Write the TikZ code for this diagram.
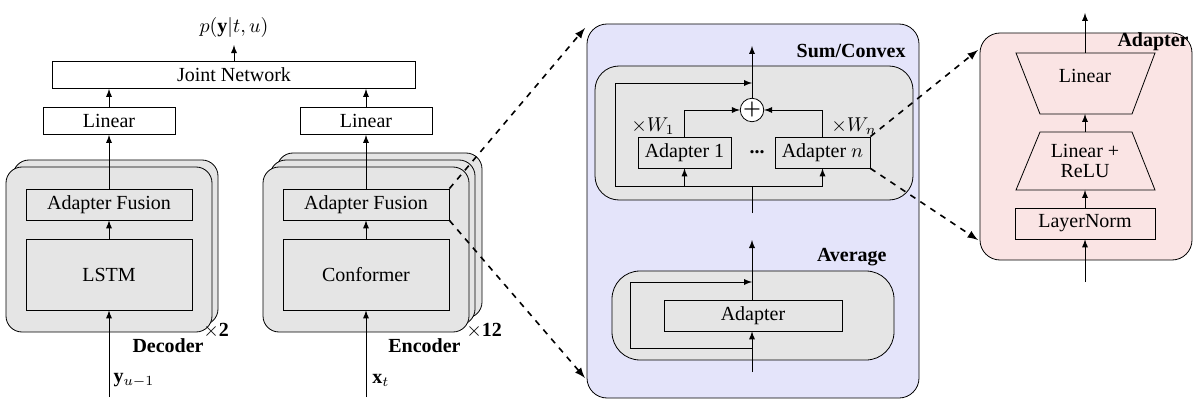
\documentclass[tikz,border=0pt]{standalone}
\usepackage{amsmath}
\usepackage{fontspec}
\setmainfont{Liberation Serif}
\usetikzlibrary{arrows.meta, positioning, calc}
\definecolor{layergray}{RGB}{229,229,229}
\definecolor{panelblue}{RGB}{228,228,250}
\definecolor{panelpink}{RGB}{250,228,228}
\tikzset{
  blk/.style={draw, fill=white, minimum height=13.5pt, inner sep=0pt},
  gblk/.style={draw, fill=layergray, minimum height=15.5pt, inner sep=0pt},
  layer/.style={draw, fill=layergray, rounded corners=8pt},
  arr/.style={-latex},
  zoomarr/.style={-latex, dashed, thick},
  title/.style={font=\bfseries, inner sep=1pt}
}
\begin{document}
\begin{tikzpicture}[x=0.5pt,y=-0.5pt]
  \useasboundingbox (0,0) rectangle (1200,417);

  % joint network and linears
  \node[blk, minimum width=181.5pt] (joint) at (234,75) {Joint Network};
  \node (out) at (234,28) {$p(\mathbf{y}|t,u)$};
  \node[blk, minimum width=66pt] (linD) at (109,121) {Linear};
  \node[blk, minimum width=66pt] (linE) at (366,121) {Linear};

  % decoder stack
  \draw[layer] (13,160) rectangle (218,325);
  \draw[layer] (6,167) rectangle (212,332);
  \node[gblk, minimum width=83pt] (fusD) at (109,204.5) {Adapter Fusion};
  \node[gblk, minimum width=83pt, minimum height=35.5pt] (lstm) at (109,274.5) {LSTM};
  \node (yin) at (134,380) {$\mathbf{y}_{u-1}$};
  \coordinate (yfoot) at (109,397);
  \node[title, anchor=east] (dec) at (206,346) {Decoder};
  \node[anchor=west, inner sep=0pt] (x2) at (203,331) {$\times\mathbf{2}$};

  % encoder stack
  \draw[layer] (277,153) rectangle (482,318);
  \draw[layer] (270,160) rectangle (475,325);
  \draw[layer] (263,167) rectangle (469,332);
  \node[gblk, minimum width=83pt] (fusE) at (366,204.5) {Adapter Fusion};
  \node[gblk, minimum width=83pt, minimum height=35.5pt] (conf) at (366,274.5) {Conformer};
  \node (xin) at (381,380) {$\mathbf{x}_t$};
  \coordinate (xfoot) at (366,397);
  \node[title, anchor=east] (enc) at (463,346) {Encoder};
  \node[anchor=west, inner sep=0pt] (x12) at (466,331) {$\times\mathbf{12}$};

  \draw[arr] (yfoot) -- (lstm);
  \draw[arr] (lstm) -- (fusD);
  \draw[arr] (fusD) -- (linD);
  \draw[arr] (linD) -- (linD |- joint.south);
  \draw[arr] (xfoot) -- (conf);
  \draw[arr] (conf) -- (fusE);
  \draw[arr] (fusE) -- (linE);
  \draw[arr] (linE) -- (linE |- joint.south);
  \draw[arr] (joint) -- (out);

  % fusion panel
  \draw[fill=panelblue, rounded corners=10pt] (587,24) rectangle (919,398);
  \draw[layer, rounded corners=12pt] (595,66) rectangle (913,200);
  \node[title, anchor=east] (sumT) at (908,51) {Sum/Convex};
  \node[draw, circle, fill=white, inner sep=0pt, minimum size=11pt] (plus) at (752,110) {$\boldsymbol{+}$};
  \node[gblk, minimum width=46.5pt] (ad1) at (684.5,152.5) {Adapter 1};
  \node[gblk, minimum width=47.5pt] (adn) at (822.5,152.5) {Adapter $n$};
  \node (dots) at (757,152) {\textbf{...}};
  \node (w1) at (653,126) {$\times W_1$};
  \node (wn) at (854,126) {$\times W_n$};
  \coordinate (sin) at (752,213);
  \coordinate (sjoin) at (752,186);
  \coordinate (sleft) at (615,186);
  \coordinate (sout) at (752,46);
  \draw (sin) -- (sjoin);
  \draw[arr] (sjoin) -| (ad1.south);
  \draw[arr] (sjoin) -| (adn.south);
  \draw[arr] (sjoin) -- (sleft) -- (615,83) -- (752,83);
  \draw[arr] (ad1.north) |- (plus.west);
  \draw[arr] (adn.north) |- (plus.east);
  \draw[arr] (plus) -- (sout);

  \draw[layer, rounded corners=14pt] (612,271) rectangle (894,360);
  \node[title, anchor=east] (avgT) at (889,257) {Average};
  \node[gblk, minimum width=89pt] (ad) at (753,315.5) {Adapter};
  \coordinate (ain) at (752,372);
  \coordinate (ajoin) at (752,348);
  \coordinate (aout) at (752,240);
  \draw (ain) -- (ajoin);
  \draw[arr] (ajoin) -- (ad.south -| ajoin);
  \draw[arr] (ajoin) -- (630,348) -- (630,282) -- (752,282);
  \draw[arr] (ad.north -| aout) -- (aout);

  % adapter panel
  \draw[fill=panelpink, rounded corners=10pt] (980,33) rectangle (1192,260);
  \node[title, anchor=east] (adT) at (1191,42) {Adapter};
  \draw (1016,53) -- (1155,53) -- (1132,114) -- (1040,114) -- cycle;
  \node (lin) at (1085,76) {Linear};
  \draw (1040,132) -- (1132,132) -- (1155,190) -- (1016,190) -- cycle;
  \node[align=center] (lre) at (1085,161) {Linear +\\[-2pt]ReLU};
  \node[blk, fill=none, minimum width=70pt, minimum height=15.5pt] (ln) at (1085,223.5) {LayerNorm};
  \coordinate (pin) at (1085,282);
  \coordinate (pout) at (1085,13);
  \draw[arr] (pin) -- (ln);
  \draw[arr] (ln) -- (1085,190);
  \draw[arr] (1085,132) -- (1085,114);
  \draw[arr] (1085,53) -- (pout);

  % zoom connectors
  \draw[zoomarr] (fusE.north east) -- (585,28);
  \draw[zoomarr] (fusE.south east) -- (585,378);
  \draw[zoomarr] (adn.north east) -- (978,50);
  \draw[zoomarr] (adn.south east) -- (978,240);
\end{tikzpicture}
\end{document}
